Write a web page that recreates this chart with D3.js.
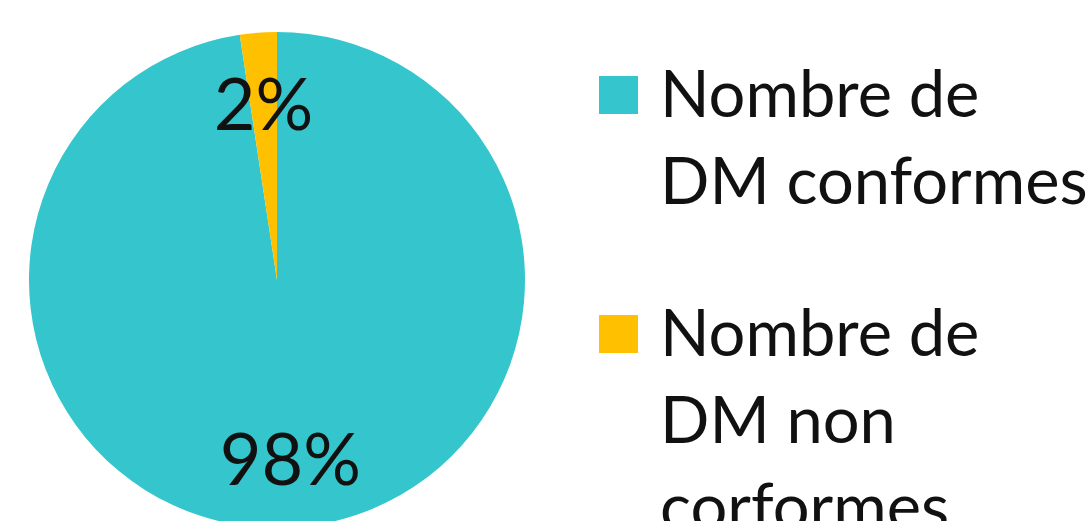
<!DOCTYPE html>
<html>
<head>
<meta charset="utf-8">
<script src="https://cdn.jsdelivr.net/npm/d3@7"></script>
<style>
  body { margin: 0; background: #fff; }
  svg { display: block; }
</style>
</head>
<body>
<svg id="chart"></svg>
<script>
const width = 1088;
const height = 521;

const categories = ["Nombre de DM conformes", "Nombre de DM non corformes"];
const values = [97.6, 2.4];
const labels = ["98%", "2%"];
const legendLines = [["Nombre de", "DM conformes"], ["Nombre de", "DM non", "corformes"]];
const colors = ["#34C6CC", "#FFC000"];

const cx = 277, cy = 280, radius = 248;

const svg = d3.select("#chart")
  .attr("width", width)
  .attr("height", height);

const pie = d3.pie().sort(null).value(d => d.value);
const data = pie(categories.map((c, i) => ({ name: c, value: values[i], label: labels[i], color: colors[i] })));

const arc = d3.arc().innerRadius(0).outerRadius(radius);
const labelArc = d3.arc().innerRadius(178).outerRadius(178);

const g = svg.append("g")
  .attr("transform", "translate(" + cx + "," + cy + ")");

g.selectAll("path")
  .data(data)
  .enter()
  .append("path")
  .attr("d", arc)
  .attr("fill", d => d.data.color);

g.selectAll("text.label")
  .data(data)
  .enter()
  .append("text")
  .attr("class", "label")
  .attr("transform", d => "translate(" + labelArc.centroid(d) + ")")
  .attr("text-anchor", "middle")
  .attr("dy", "0.38em")
  .style("font-family", "Lato, sans-serif")
  .style("font-size", "72px")
  .style("fill", "#111")
  .text(d => d.data.label);

// legend
const legendY = [76, 315];
const legend = svg.append("g").attr("id", "legend");

const item = legend.selectAll("g")
  .data(categories)
  .enter()
  .append("g")
  .attr("transform", (d, i) => "translate(599," + legendY[i] + ")");

item.append("rect")
  .attr("width", 39)
  .attr("height", 38)
  .attr("fill", (d, i) => colors[i]);

item.append("text")
  .style("font-family", "Lato, sans-serif")
  .style("font-size", "65px")
  .style("fill", "#111")
  .selectAll("tspan")
  .data((d, i) => legendLines[i])
  .enter()
  .append("tspan")
  .attr("x", 61)
  .attr("y", (d, j) => 41 + j * 87)
  .text(d => d);
</script>
</body>
</html>
